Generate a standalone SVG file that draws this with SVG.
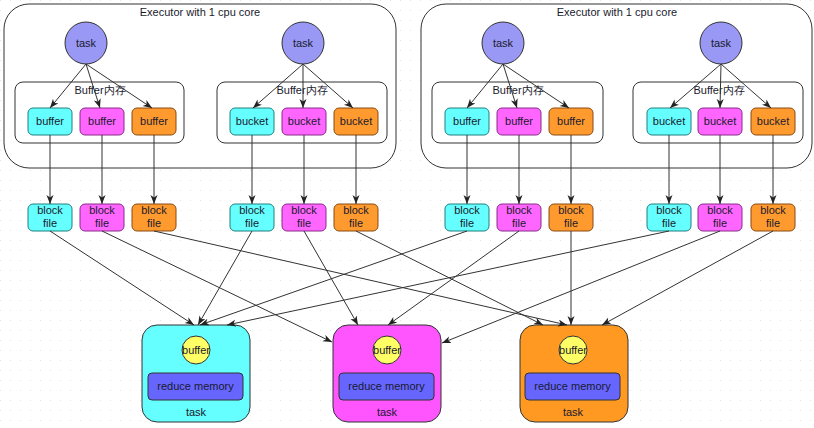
<svg xmlns="http://www.w3.org/2000/svg" width="814" height="428" viewBox="0 0 814 428">
<style>
text{font-family:"Liberation Sans",Arial,sans-serif;font-size:11px;fill:#1a1a2e;text-anchor:middle}
.exec{fill:#fff;stroke:#333;stroke-width:1}
.mem{fill:#fff;stroke:#333;stroke-width:1}
.tc{fill:#9999f5;stroke:#333;stroke-width:1}
.cy{fill:#66ffff;stroke:#1f8080;stroke-width:1}
.mg{fill:#ff66ff;stroke:#8a2a8a;stroke-width:1}
.or{fill:#ff9a2e;stroke:#8a4a12;stroke-width:1}
.bcy{fill:#66ffff;stroke:#333;stroke-width:1}
.bmg{fill:#ff55ff;stroke:#333;stroke-width:1}
.bor{fill:#ff9922;stroke:#333;stroke-width:1}
.yel{fill:#ffff66;stroke:#333;stroke-width:1}
.rm{fill:#6666ff;stroke:#333;stroke-width:1}
.c line{stroke:#333;stroke-width:1;marker-end:url(#ah)}
</style>
<defs>
<marker id="ah" markerUnits="userSpaceOnUse" markerWidth="10" markerHeight="8" refX="9" refY="3.5" orient="auto">
<path d="M0,0 L9,3.5 L0,7 L2.5,3.5 z" fill="#222"/>
</marker>
<pattern id="grid" width="10" height="10" patternUnits="userSpaceOnUse">
<rect x="0" y="0" width="1" height="1" fill="#e4e4e4"/>
</pattern>
</defs>
<rect width="814" height="428" fill="#fff"/>
<rect width="814" height="428" fill="url(#grid)"/>

<g id="executor1">
<rect class="exec" x="4" y="4" width="392" height="164" rx="25"/>
<text x="200" y="16">Executor with 1 cpu core</text>
</g>
<g id="executor2">
<rect class="exec" x="421" y="4" width="391" height="164" rx="25"/>
<text x="617" y="16">Executor with 1 cpu core</text>
</g>

<g id="mem1"><rect class="mem" x="15" y="82" width="169" height="61" rx="8"/><text x="100" y="94">Buffer内存</text></g>
<g id="mem2"><rect class="mem" x="217" y="82" width="170" height="61" rx="8"/><text x="302" y="94">Buffer内存</text></g>
<g id="mem3"><rect class="mem" x="432" y="82" width="171" height="61" rx="8"/><text x="518" y="94">Buffer内存</text></g>
<g id="mem4"><rect class="mem" x="633" y="82" width="170" height="61" rx="8"/><text x="719" y="94">Buffer内存</text></g>

<g id="task1"><circle class="tc" cx="86" cy="43" r="21"/><text x="86" y="47">task</text></g>
<g id="task2"><circle class="tc" cx="303" cy="43" r="21"/><text x="303" y="47">task</text></g>
<g id="task3"><circle class="tc" cx="503" cy="43" r="21"/><text x="503" y="47">task</text></g>
<g id="task4"><circle class="tc" cx="721" cy="43" r="21"/><text x="721" y="47">task</text></g>

<g id="buf1"><rect class="cy" x="28" y="108" width="44" height="27" rx="5"/><text x="50" y="125">buffer</text></g>
<g id="buf2"><rect class="mg" x="80" y="108" width="44" height="27" rx="5"/><text x="102" y="125">buffer</text></g>
<g id="buf3"><rect class="or" x="132" y="108" width="44" height="27" rx="5"/><text x="154" y="125">buffer</text></g>
<g id="bkt1"><rect class="cy" x="230" y="108" width="44" height="27" rx="5"/><text x="252" y="125">bucket</text></g>
<g id="bkt2"><rect class="mg" x="282" y="108" width="44" height="27" rx="5"/><text x="304" y="125">bucket</text></g>
<g id="bkt3"><rect class="or" x="334" y="108" width="44" height="27" rx="5"/><text x="356" y="125">bucket</text></g>
<g id="buf4"><rect class="cy" x="445" y="108" width="44" height="27" rx="5"/><text x="467" y="125">buffer</text></g>
<g id="buf5"><rect class="mg" x="497" y="108" width="44" height="27" rx="5"/><text x="519" y="125">buffer</text></g>
<g id="buf6"><rect class="or" x="549" y="108" width="44" height="27" rx="5"/><text x="571" y="125">buffer</text></g>
<g id="bkt4"><rect class="cy" x="647" y="108" width="44" height="27" rx="5"/><text x="669" y="125">bucket</text></g>
<g id="bkt5"><rect class="mg" x="698" y="108" width="44" height="27" rx="5"/><text x="720" y="125">bucket</text></g>
<g id="bkt6"><rect class="or" x="751" y="108" width="44" height="27" rx="5"/><text x="773" y="125">bucket</text></g>

<g id="bf1"><rect class="cy" x="28" y="204" width="44" height="27" rx="5"/><text x="50" y="214">block</text><text x="50" y="227">file</text></g>
<g id="bf2"><rect class="mg" x="80" y="204" width="44" height="27" rx="5"/><text x="102" y="214">block</text><text x="102" y="227">file</text></g>
<g id="bf3"><rect class="or" x="132" y="204" width="44" height="27" rx="5"/><text x="154" y="214">block</text><text x="154" y="227">file</text></g>
<g id="bf4"><rect class="cy" x="230" y="204" width="44" height="27" rx="5"/><text x="252" y="214">block</text><text x="252" y="227">file</text></g>
<g id="bf5"><rect class="mg" x="282" y="204" width="44" height="27" rx="5"/><text x="304" y="214">block</text><text x="304" y="227">file</text></g>
<g id="bf6"><rect class="or" x="334" y="204" width="44" height="27" rx="5"/><text x="356" y="214">block</text><text x="356" y="227">file</text></g>
<g id="bf7"><rect class="cy" x="445" y="204" width="44" height="27" rx="5"/><text x="467" y="214">block</text><text x="467" y="227">file</text></g>
<g id="bf8"><rect class="mg" x="497" y="204" width="44" height="27" rx="5"/><text x="519" y="214">block</text><text x="519" y="227">file</text></g>
<g id="bf9"><rect class="or" x="549" y="204" width="44" height="27" rx="5"/><text x="571" y="214">block</text><text x="571" y="227">file</text></g>
<g id="bf10"><rect class="cy" x="647" y="204" width="44" height="27" rx="5"/><text x="669" y="214">block</text><text x="669" y="227">file</text></g>
<g id="bf11"><rect class="mg" x="698" y="204" width="44" height="27" rx="5"/><text x="720" y="214">block</text><text x="720" y="227">file</text></g>
<g id="bf12"><rect class="or" x="751" y="204" width="44" height="27" rx="5"/><text x="773" y="214">block</text><text x="773" y="227">file</text></g>

<g id="rtask1">
<rect class="bcy" x="142" y="325" width="108" height="97" rx="15"/>
<circle class="yel" cx="196" cy="350" r="14"/><text x="196" y="354">buffer</text>
<rect class="rm" x="148" y="373" width="95" height="27" rx="4"/><text x="195.5" y="390">reduce memory</text>
<text x="196" y="416">task</text>
</g>
<g id="rtask2">
<rect class="bmg" x="333" y="325" width="108" height="97" rx="15"/>
<circle class="yel" cx="387" cy="350" r="14"/><text x="387" y="354">buffer</text>
<rect class="rm" x="339" y="373" width="95" height="27" rx="4"/><text x="386.5" y="390">reduce memory</text>
<text x="387" y="416">task</text>
</g>
<g id="rtask3">
<rect class="bor" x="520" y="325" width="108" height="97" rx="15"/>
<circle class="yel" cx="573" cy="350" r="14"/><text x="573" y="354">buffer</text>
<rect class="rm" x="525" y="373" width="95" height="27" rx="4"/><text x="572.5" y="390">reduce memory</text>
<text x="573" y="416">task</text>
</g>

<g id="connectors" class="c">
<line x1="86" y1="64" x2="50" y2="108"/>
<line x1="86" y1="64" x2="100" y2="108"/>
<line x1="86" y1="64" x2="152" y2="108"/>
<line x1="303" y1="64" x2="253" y2="108"/>
<line x1="303" y1="64" x2="303" y2="108"/>
<line x1="303" y1="64" x2="353" y2="108"/>
<line x1="503" y1="64" x2="467" y2="108"/>
<line x1="503" y1="64" x2="517" y2="108"/>
<line x1="503" y1="64" x2="569" y2="108"/>
<line x1="721" y1="64" x2="670" y2="108"/>
<line x1="721" y1="64" x2="720" y2="108"/>
<line x1="721" y1="64" x2="771" y2="108"/>

<line x1="50" y1="135" x2="50" y2="204"/>
<line x1="102" y1="135" x2="102" y2="204"/>
<line x1="154" y1="135" x2="154" y2="204"/>
<line x1="252" y1="135" x2="252" y2="204"/>
<line x1="304" y1="135" x2="304" y2="204"/>
<line x1="356" y1="135" x2="356" y2="204"/>
<line x1="467" y1="135" x2="467" y2="204"/>
<line x1="519" y1="135" x2="519" y2="204"/>
<line x1="571" y1="135" x2="571" y2="204"/>
<line x1="669" y1="135" x2="669" y2="204"/>
<line x1="720" y1="135" x2="720" y2="204"/>
<line x1="773" y1="135" x2="773" y2="204"/>

<line x1="50" y1="231" x2="194" y2="325"/>
<line x1="102" y1="231" x2="332" y2="342"/>
<line x1="154" y1="231" x2="567" y2="325"/>
<line x1="252" y1="231" x2="198" y2="325"/>
<line x1="304" y1="231" x2="358" y2="325"/>
<line x1="356" y1="231" x2="543" y2="325"/>
<line x1="467" y1="231" x2="200" y2="325"/>
<line x1="519" y1="231" x2="388" y2="325"/>
<line x1="571" y1="231" x2="571" y2="325"/>
<line x1="669" y1="231" x2="227" y2="325"/>
<line x1="720" y1="231" x2="442" y2="343"/>
<line x1="773" y1="231" x2="602" y2="325"/>
</g>
</svg>
